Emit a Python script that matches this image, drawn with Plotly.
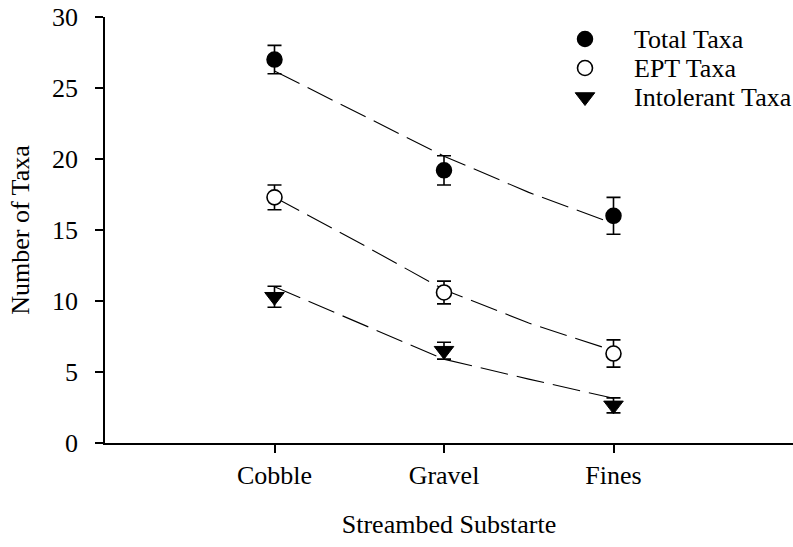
import plotly.graph_objects as go

# ---- data ----
categories = ["Cobble", "Gravel", "Fines"]
cat_pos = [1, 2, 3]

total_mean = [27.0, 19.2, 16.0]
total_err = [1.0, 1.03, 1.3]
ept_mean = [17.3, 10.6, 6.3]
ept_err = [0.87, 0.8, 0.96]
intol_mean = [10.3, 6.5, 2.65]
intol_err = [0.74, 0.59, 0.53]

# fitted (dashed) curves, read at these positions
fit_x = [1, 1.5, 2, 2.5, 3]
total_fit = [26.2, 23.2, 20.2, 17.65, 15.45]
ept_fit = [17.3, 14.1, 10.8, 8.45, 6.5]
intol_fit = [11.0, 8.45, 5.9, 4.5, 3.15]

legend_labels = ["Total Taxa", "EPT Taxa", "Intolerant Taxa"]

FONT = "Times New Roman, Liberation Serif, DejaVu Serif, serif"
W, H = 793, 547
ML, MR, MT, MB = 105, 0, 17, 104
PW, PH = W - ML - MR, H - MT - MB
px_per_unit = 169.5

fig = go.Figure()

dash = "28px,9px"
for fy in [total_fit, ept_fit, intol_fit]:
    fig.add_trace(go.Scatter(x=fit_x, y=fy, mode="lines",
                             line=dict(color="black", width=1.1, dash=dash),
                             showlegend=False, hoverinfo="skip"))

styles = [
    dict(symbol="circle", size=15, color="black", line=dict(color="black", width=1.5)),
    dict(symbol="circle", size=15, color="white", line=dict(color="black", width=1.6)),
    dict(symbol="triangle-down", size=17, color="black", line=dict(color="black", width=1)),
]
series = [(total_mean, total_err), (ept_mean, ept_err), (intol_mean, intol_err)]
for (m, e), st, name in zip(series, styles, legend_labels):
    fig.add_trace(go.Scatter(
        x=cat_pos, y=m, mode="markers", name=name, marker=st,
        error_y=dict(type="data", array=e, visible=True, color="black",
                     thickness=1.6, width=7),
        showlegend=False))

# manual legend (keys on an overlay pixel axis, labels as annotations)
leg_x = 480          # px from plot left
leg_y = [22, 51, 80]  # px from plot top
for st, yy, name in zip(styles, leg_y, legend_labels):
    fig.add_trace(go.Scatter(x=[leg_x], y=[yy], xaxis="x2", yaxis="y2",
                             mode="markers", marker=st, showlegend=False,
                             hoverinfo="skip"))
    fig.add_annotation(x=leg_x + 47, y=yy, xref="x2", yref="y2", text=name,
                       showarrow=False, xanchor="left", yanchor="middle",
                       font=dict(family=FONT, size=26, color="black"))

fig.update_layout(
    width=W, height=H,
    margin=dict(l=ML, r=MR, t=MT, b=MB, pad=0),
    paper_bgcolor="white", plot_bgcolor="white",
    font=dict(family=FONT, size=26, color="black"),
    showlegend=False,
    xaxis=dict(range=[0, PW / px_per_unit], tickvals=cat_pos, ticktext=categories,
               showgrid=False, zeroline=False, showline=True, linecolor="black",
               linewidth=1.5, ticks="outside", ticklen=8, tickwidth=1.5,
               tickcolor="black", tickfont=dict(family=FONT, size=26),
               title=dict(text="Streambed Substarte", font=dict(family=FONT, size=26),
                          standoff=26)),
    yaxis=dict(range=[0, 30], tickvals=[0, 5, 10, 15, 20, 25, 30],
               showgrid=False, zeroline=False, showline=True, linecolor="black",
               linewidth=1.5, ticks="outside", ticklen=8, tickwidth=1.5,
               tickcolor="black", tickfont=dict(family=FONT, size=26),
               ticklabelstandoff=12,
               title=dict(text="Number of Taxa", font=dict(family=FONT, size=26),
                          standoff=15)),
    xaxis2=dict(range=[0, PW], overlaying="x", visible=False, fixedrange=True),
    yaxis2=dict(range=[PH, 0], overlaying="y", visible=False, fixedrange=True),
)

fig.write_html("out.html")
